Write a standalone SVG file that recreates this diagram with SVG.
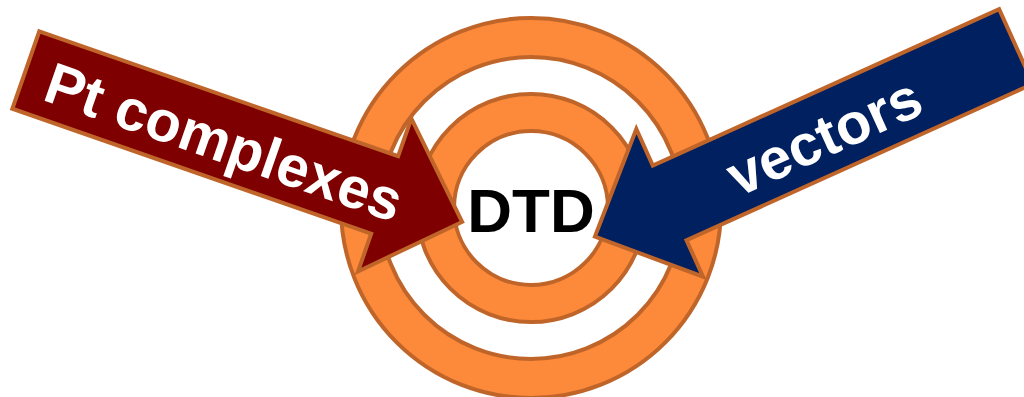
<svg xmlns="http://www.w3.org/2000/svg" width="1024" height="397" viewBox="0 0 1024 397">
  <style>
    .ring { fill: #FD8A3A; stroke: #C0652A; stroke-width: 4; fill-rule: evenodd; }
    .arrow { stroke: #C0652A; stroke-width: 4; stroke-linejoin: miter; }
    .arrow-red { fill: #7F0000; }
    .arrow-blue { fill: #002060; }
    .label { font-family: "Liberation Sans", Arial, sans-serif; font-weight: bold; }
    .arrow-label { fill: #FFFFFF; font-size: 58px; }
    .center-label { fill: #000000; font-size: 62px; }
  </style>
  <defs>
    <!-- block arrow pointing along +x, tail centred on the origin -->
    <path id="block-arrow" d="M0,-41 L380,-41 L380,-81 L462,0 L380,81 L380,41 L0,41 Z"/>
  </defs>
  <rect width="1024" height="397" fill="#FFFFFF"/>

  <!-- concentric target rings -->
  <g id="ring-outer">
    <path class="ring" d="M341,208 a190,190 0 1,0 380,0 a190,190 0 1,0 -380,0 Z M380,208 a151,151 0 1,0 302,0 a151,151 0 1,0 -302,0 Z"/>
  </g>
  <g id="ring-inner">
    <path class="ring" d="M417,208 a114,114 0 1,0 228,0 a114,114 0 1,0 -228,0 Z M454,208 a77,77 0 1,0 154,0 a77,77 0 1,0 -154,0 Z"/>
  </g>

  <g id="node-dtd">
    <text class="label center-label" x="531" y="232" text-anchor="middle">DTD</text>
  </g>

  <!-- inbound arrows -->
  <g id="connectors">
    <g id="arrow-pt-complexes" transform="translate(25.8,70) rotate(19.2)">
      <use href="#block-arrow" class="arrow arrow-red"/>
      <text class="label arrow-label" x="211" y="23" text-anchor="middle">Pt complexes</text>
    </g>
    <g id="arrow-vectors">
      <use href="#block-arrow" class="arrow arrow-blue" transform="translate(1016,46.5) rotate(155.7)"/>
      <text class="label arrow-label" transform="translate(1016,46.5) rotate(-24.3)" x="-212" y="23" text-anchor="middle">vectors</text>
    </g>
  </g>
</svg>
